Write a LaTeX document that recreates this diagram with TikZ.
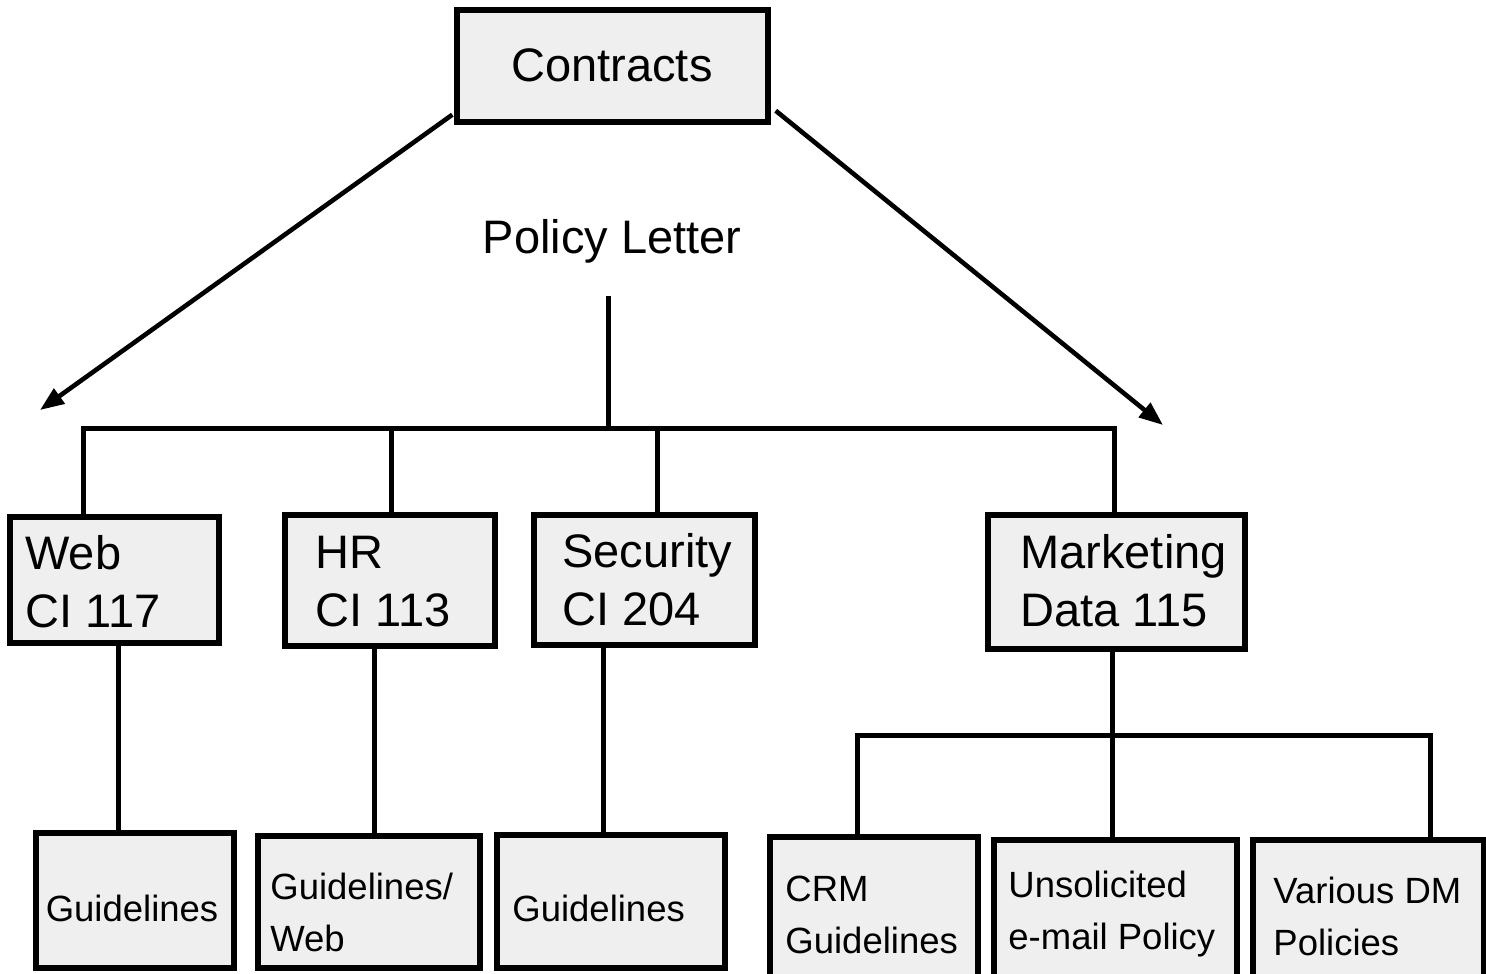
\documentclass[tikz,border=0pt]{standalone}
\usepackage{fontspec}
\setmainfont{Liberation Sans}
\usetikzlibrary{arrows.meta,fit,calc}
\definecolor{boxgray}{HTML}{EFEFEF}
\begin{document}
\begin{tikzpicture}[x=0.5pt,y=-0.5pt,
  box/.style={draw=black, fill=boxgray, line width=2.7pt, inner sep=0pt, rectangle},
  link/.style={line width=2.5pt, line join=miter},
  big/.style={font=\fontsize{23.5}{29}\selectfont, inner sep=0pt, align=left},
  small/.style={font=\fontsize{18.25}{26}\selectfont, inner sep=0pt, align=left},
  arrowline/.style={line width=2.3pt, -{Triangle[length=12pt,width=9pt]}}]
\useasboundingbox (0,0) rectangle (1486,973);
\clip (0,0) rectangle (1486,973);

% boxes
\node[box, fit={(457,10)(768,122)}] (contracts) {};
\node[box, fit={(10,517)(219,643)}] (web) {};
\node[box, fit={(285,515)(495,646)}] (hr) {};
\node[box, fit={(534,515)(755,645)}] (sec) {};
\node[box, fit={(988,515)(1245,649)}] (mkt) {};
\node[box, fit={(36,833)(234,968)}] (g1) {};
\node[box, fit={(258,836)(480,968)}] (g2) {};
\node[box, fit={(497,835)(725,968)}] (g3) {};
\node[box, fit={(770,837)(978,1010)}] (crm) {};
\node[box, fit={(994,840)(1237,1010)}] (uns) {};
\node[box, fit={(1253,840)(1484,1010)}] (var) {};

% labels
\node[big] (tcon) at (612,65) {Contracts};
\node[big] (policy) at (612,241) {Policy Letter};
\node[big, anchor=west] (tweb) at (25,582) {Web\\CI 117};
\node[big, anchor=west] (thr) at (315,582) {HR\\CI 113};
\node[big, anchor=west] (tsec) at (562,580) {Security\\CI 204};
\node[big, anchor=west] (tmkt) at (1020,581) {Marketing\\Data 115};
\node[small] (tg1) at (132,908) {Guidelines};
\node[small, anchor=west] (tg2) at (270,912) {Guidelines/\\Web};
\node[small, anchor=west] (tg3) at (512,908) {Guidelines};
\node[small, anchor=west] (tcrm) at (785,915) {CRM\\Guidelines};
\node[small, anchor=west] (tuns) at (1008,914) {Unsolicited\\e-mail Policy};
\node[small, anchor=west] (tvar) at (1273,916) {Various DM\\Policies};

% junction points
\coordinate (pltop) at (608,296);
\coordinate (bus) at (608,428);
\coordinate (b1) at (83,428);
\coordinate (b2) at (391,428);
\coordinate (b3) at (657,428);
\coordinate (b4) at (1114,428);
\coordinate (m1) at (857,735);
\coordinate (m2) at (1112,735);
\coordinate (m3) at (1430,735);
\coordinate (la) at (40,410);
\coordinate (ra) at (1163,425);

% policy letter tree
\draw[link] (pltop) -- (bus);
\draw[link] (b1 |- web.north) -- (b1) -- (b4) -- (b4 |- mkt.north);
\draw[link] (b2) -- (b2 |- hr.north);
\draw[link] (b3) -- (b3 |- sec.north);

% guideline links
\draw[link] ([xshift=1.75pt]web.south) -- ([xshift=1.75pt]web.south |- g1.north);
\draw[link] ([xshift=-8pt]hr.south) -- ([xshift=-8pt]hr.south |- g2.north);
\draw[link] ([xshift=-20.75pt]sec.south) -- ([xshift=-20.75pt]sec.south |- g3.north);

% marketing subtree
\draw[link] (mkt.south -| m2) -- (m2);
\draw[link] (crm.north -| m1) -- (m1) -- (m3) -- (var.north -| m3);
\draw[link] (m2) -- (uns.north -| m2);

% contract arrows
\draw[arrowline] ($(contracts.south west)+(-2,-10)$) -- (la);
\draw[arrowline] ($(contracts.south east)+(5,-14)$) -- (ra);
\end{tikzpicture}
\end{document}
